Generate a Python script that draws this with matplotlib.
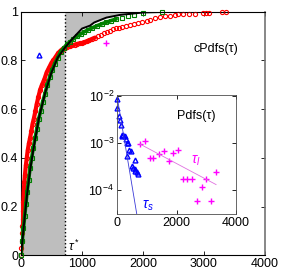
# Recreation of the cPdfs / Pdfs duration figure
import numpy as np
import matplotlib
matplotlib.use("Agg")
import matplotlib.pyplot as plt

plt.rcParams['font.family'] = ['Liberation Sans', 'DejaVu Sans']
plt.rcParams['mathtext.fontset'] = 'custom'
plt.rcParams['mathtext.rm'] = 'Liberation Sans'
plt.rcParams['mathtext.it'] = 'Liberation Sans:italic'

# ---- data ----
tau_star = 720

# red circles (empirical cdf, set 1)
red_x = [0, 5, 10, 15, 20, 25, 30, 38, 45, 55, 65, 80, 95, 110, 130, 148, 170, 190,
         210, 235, 257, 285, 315, 345, 380, 420, 460, 500, 530, 570, 610, 650, 690,
         721, 760, 800, 840, 880, 920, 960, 1000, 1040, 1080, 1120, 1160, 1213, 1260,
         1310, 1360, 1410, 1459, 1510, 1560, 1610, 1660, 1720, 1787, 1850, 1920, 1990,
         2060, 2115, 2200, 2280, 2360, 2443, 2520, 2580, 2650, 2760, 2850, 2990, 3040,
         3090, 3300, 3360]
red_y = [0.0, 0.03, 0.06, 0.09, 0.12, 0.15, 0.18, 0.22, 0.26, 0.30, 0.33, 0.37, 0.40,
         0.43, 0.46, 0.48, 0.51, 0.54, 0.56, 0.59, 0.62, 0.65, 0.68, 0.70, 0.72, 0.75,
         0.77, 0.79, 0.80, 0.815, 0.83, 0.84, 0.848, 0.852, 0.855, 0.858, 0.861, 0.864,
         0.867, 0.869, 0.871, 0.874, 0.878, 0.882, 0.887, 0.893, 0.898, 0.905, 0.910,
         0.916, 0.922, 0.927, 0.931, 0.934, 0.937, 0.940, 0.943, 0.948, 0.953, 0.958,
         0.962, 0.966, 0.972, 0.976, 0.980, 0.983, 0.986, 0.988, 0.989, 0.990, 0.991,
         0.992, 0.993, 0.994, 0.997, 0.999]

# green squares (empirical cdf, set 2)
green_x = [0, 20, 40, 60, 80, 100, 125, 150, 175, 200, 230, 260, 290, 320, 355, 390,
           430, 470, 510, 550, 600, 650, 700, 750, 800, 860, 920, 980, 1040, 1100, 1170,
           1240, 1320, 1400, 1480, 1560, 1650, 1750, 1860, 1995, 2306]
green_y = [0.0, 0.06, 0.11, 0.16, 0.21, 0.26, 0.31, 0.36, 0.40, 0.44, 0.48, 0.52, 0.56,
           0.59, 0.63, 0.66, 0.70, 0.73, 0.76, 0.785, 0.81, 0.835, 0.85, 0.865, 0.875,
           0.888, 0.898, 0.908, 0.917, 0.925, 0.933, 0.941, 0.949, 0.956, 0.963, 0.969,
           0.975, 0.981, 0.986, 0.995, 0.998]

# black model cdf
black_x = [0, 50, 100, 150, 200, 250, 300, 400, 500, 600, 720, 850, 1000, 1131, 1200,
           1400, 1623, 2000, 2500, 3000, 4000]
black_y = [0.0, 0.13, 0.25, 0.35, 0.43, 0.50, 0.57, 0.67, 0.75, 0.81, 0.852, 0.89,
           0.93, 0.942, 0.955, 0.975, 0.986, 0.996, 0.999, 1.0, 1.0]

# stray markers in main panel
tri_main_x, tri_main_y = [300], [0.82]
plus_main_x, plus_main_y = [1393], [0.87]

# inset: pdf of short (triangles) and long (plus) durations
pdf_s_x = [0, 10, 56, 100, 145, 168, 180, 200, 258, 300, 325, 370, 413, 460, 325,
           594, 504, 548, 594, 661, 705, 620]
pdf_s_y = [8.5e-3, 5.5e-3, 3.8e-3, 3.1e-3, 2.4e-3, 1.5e-3, 1.4e-3, 1.45e-3, 1.38e-3,
           1.23e-3, 1.0e-3, 1.02e-3, 7.2e-4, 6.8e-4, 5.2e-4, 4.3e-4, 3.2e-4, 3.0e-4,
           2.6e-4, 2.45e-4, 2.2e-4, 2.8e-4]
pdf_l_x = [773, 941, 1109, 1221, 1422, 1579, 1736, 1871, 2050, 2206, 2363, 2520, 2677,
           2845, 2990, 3148, 3326]
pdf_l_y = [9.5e-4, 1.12e-3, 4.7e-4, 4.7e-4, 5.9e-4, 6.9e-4, 4.2e-4, 6.1e-4, 7.2e-4,
           1.73e-4, 1.73e-4, 1.73e-4, 5.9e-5, 1.18e-4, 1.73e-4, 5.9e-5, 2.4e-4]

# exponential fits A*exp(-t/tau)
fit_s = dict(A=1.0e-2, tau=115, t0=0, t1=700)
fit_l = dict(A=1.73e-3, tau=1290, t0=773, t1=3330)
# ============================================

W, H = 283, 274
fig = plt.figure(figsize=(W / 100, H / 100), dpi=100)

ax = fig.add_axes([21 / W, (H - 255.3) / H, 244 / W, 243.8 / H])

# gray area between model cdf and step at tau*
bx = np.array(black_x, dtype=float)
by = np.array(black_y, dtype=float)
ax.fill_between(bx, by, 0, where=bx <= tau_star, color='#bebebe', lw=0, zorder=1)
ax.fill_between(bx, by, 1, where=bx >= tau_star, color='#bebebe', lw=0, zorder=1)
ax.plot([tau_star, tau_star], [0, 1], color='k', ls=':', lw=1.0, zorder=2)

# dense part of the empirical cdfs: markers overlap into solid bands
rx, ry = np.array(red_x), np.array(red_y)
gx, gy = np.array(green_x), np.array(green_y)
ax.plot(rx[rx <= 1213], ry[rx <= 1213], color='red', lw=3.0,
        solid_capstyle='round', zorder=3)
ax.plot(gx[gx <= 1560], gy[gx <= 1560], color='green', lw=2.6,
        solid_capstyle='round', zorder=4)
ax.plot(rx, ry, ls='none', marker='o', ms=3.0, mfc='none', mec='red', mew=0.8,
        zorder=3, clip_on=False)
ax.plot(gx, gy, ls='none', marker='s', ms=2.8, mfc='none', mec='green',
        mew=0.8, zorder=4, clip_on=False)
ax.plot(bx, by, color='k', lw=1.4, zorder=5)

ax.plot(tri_main_x, tri_main_y, ls='none', marker='^', ms=3.5, mfc='none', mec='blue',
        mew=1.0)
ax.plot(plus_main_x, plus_main_y, ls='none', marker='+', ms=4.5, color='magenta',
        mew=1.0)

ax.text(2820, 0.845, 'cPdfs(τ)', fontsize=9, va='center', ha='left')
ax.text(770, 0.035, r'$\tau^*$', fontsize=9, va='center', ha='left')

ax.set_xlim(0, 4000)
ax.set_ylim(0, 1)
ax.set_xticks([0, 1000, 2000, 3000, 4000])
ax.set_yticks([0, 0.2, 0.4, 0.6, 0.8, 1])
ax.set_yticklabels(['0', '0.2', '0.4', '0.6', '0.8', '1'])
ax.tick_params(direction='in', top=True, right=True, length=3, width=0.6,
               labelsize=9, pad=2)
for s in ax.spines.values():
    s.set_linewidth(0.8)
ax.spines['right'].set_color('0.45')
ax.spines['right'].set_linewidth(1.2)

# inset
ins = fig.add_axes([117 / W, (H - 214) / H, 119 / W, 119 / H])
ins.set_yscale('log')
ins.plot(pdf_s_x, pdf_s_y, ls='none', marker='^', ms=3.5, mfc='none', mec='blue',
         mew=1.0, clip_on=False)
ins.plot(pdf_l_x, pdf_l_y, ls='none', marker='+', ms=4.5, color='magenta', mew=1.0)

ts = np.array([fit_s['t0'], fit_s['t1']], dtype=float)
ins.plot(ts, fit_s['A'] * np.exp(-ts / fit_s['tau']), color='#3a3ad8', lw=0.6)
tl = np.array([fit_l['t0'], fit_l['t1']], dtype=float)
ins.plot(tl, fit_l['A'] * np.exp(-tl / fit_l['tau']), color='#e070e0', lw=0.6)

ins.text(2016, 3.8e-3, 'Pdfs(τ)', fontsize=9, va='center', ha='left')
ins.text(2500, 4.2e-4, r'$\tau_l$', fontsize=10, color='magenta', va='center')
ins.text(830, 4.6e-5, r'$\tau_s$', fontsize=10, color='blue', va='center')

ins.set_xlim(0, 4000)
ins.set_ylim(3.1e-5, 1.05e-2)
ins.set_xticks([0, 2000, 4000])
ins.set_yticks([1e-4, 1e-3, 1e-2])
ins.yaxis.set_minor_locator(matplotlib.ticker.NullLocator())
ins.tick_params(direction='in', top=True, right=True, length=3, width=0.6,
                labelsize=9, pad=2)
for s in ins.spines.values():
    s.set_linewidth(0.6)
    s.set_color('0.3')

fig.savefig('out.png', dpi=100)
